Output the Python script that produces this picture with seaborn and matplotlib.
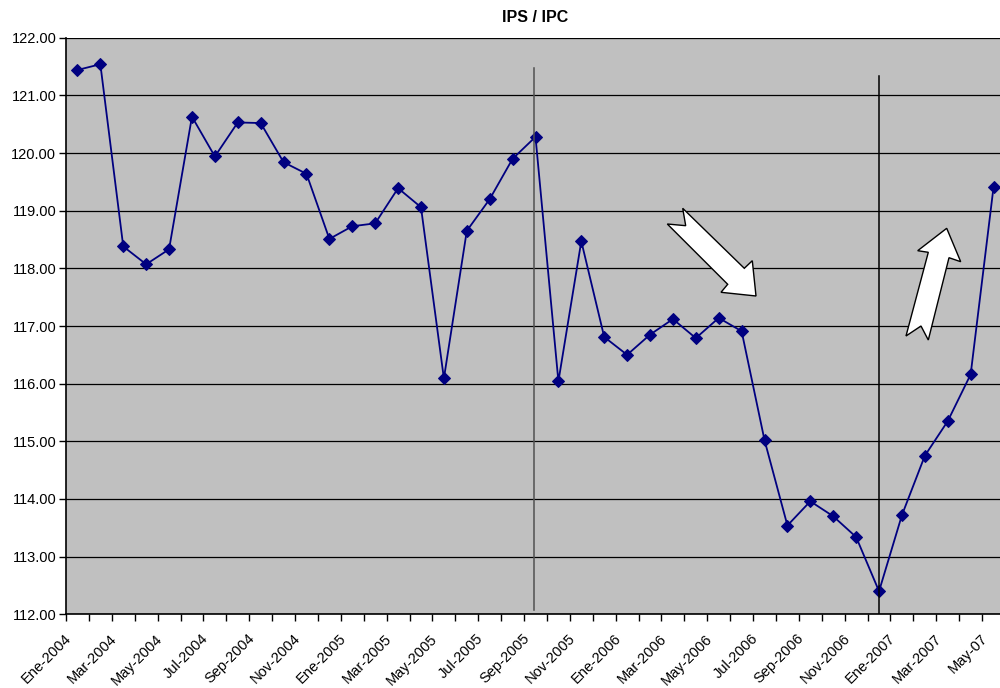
import matplotlib
matplotlib.use("Agg")
import matplotlib.pyplot as plt
from matplotlib.patches import Polygon
from matplotlib.ticker import FuncFormatter, FixedLocator
from matplotlib.transforms import ScaledTranslation
import seaborn as sns
import pandas as pd

# ---- data ----
months = [
    "Ene-2004", "Feb-2004", "Mar-2004", "Abr-2004", "May-2004", "Jun-2004",
    "Jul-2004", "Ago-2004", "Sep-2004", "Oct-2004", "Nov-2004", "Dic-2004",
    "Ene-2005", "Feb-2005", "Mar-2005", "Abr-2005", "May-2005", "Jun-2005",
    "Jul-2005", "Ago-2005", "Sep-2005", "Oct-2005", "Nov-2005", "Dic-2005",
    "Ene-2006", "Feb-2006", "Mar-2006", "Abr-2006", "May-2006", "Jun-2006",
    "Jul-2006", "Ago-2006", "Sep-2006", "Oct-2006", "Nov-2006", "Dic-2006",
    "Ene-2007", "Feb-2007", "Mar-2007", "Abr-2007", "May-07",
]
values = [
    121.44, 121.54, 118.38, 118.07, 118.33, 120.63,
    119.94, 120.53, 120.52, 119.84, 119.64, 118.51,
    118.73, 118.78, 119.39, 119.06, 116.09, 118.65,
    119.20, 119.90, 120.28, 116.04, 118.47, 116.81,
    116.50, 116.85, 117.12, 116.79, 117.14, 116.91,
    115.02, 113.54, 113.96, 113.70, 113.34, 112.40,
    113.72, 114.75, 115.35, 116.16, 119.41,
]
title = "IPS / IPC"
y_ticks = [112, 113, 114, 115, 116, 117, 118, 119, 120, 121, 122]

df = pd.DataFrame({"idx": range(len(months)), "mes": months, "valor": values})

# ---- figure ----
fig = plt.figure(figsize=(10, 6.88), dpi=100)
plt.rcParams["font.family"] = ["Liberation Sans", "DejaVu Sans"]
L, R, T, B = 66, 1005, 37.7, 614.3
ax = fig.add_axes([L / 1000, 1 - B / 688, (R - L) / 1000, (B - T) / 688])
ax.set_facecolor("#C0C0C0")

sns.lineplot(data=df, x="idx", y="valor", ax=ax, color="#000080",
             marker="D", markersize=5.8, markeredgecolor="#000080",
             linewidth=1.3, legend=False)

n = len(months)
ax.set_xlim(-0.5, n - 0.5)
ax.set_ylim(112, 122)

# grid
for yv in y_ticks:
    ax.axhline(yv, color="black", lw=0.9, zorder=1)

# y axis
ax.yaxis.set_major_locator(FixedLocator(y_ticks))
ax.yaxis.set_major_formatter(FuncFormatter(lambda v, p: f"{v:.2f}"))
ax.tick_params(axis="y", direction="out", length=5, width=1, pad=2,
               labelsize=10.5, colors="black")

# x axis: ticks between categories, labels every second category
ax.set_xticks(list(range(0, n, 2)))
ax.set_xticklabels([months[i] for i in range(0, n, 2)], rotation=45,
                   ha="right", va="center", rotation_mode="anchor")
ax.set_xticks([i - 0.5 for i in range(n + 1)], minor=True)
ax.tick_params(axis="x", which="major", length=0, pad=16, labelsize=10.5)
ax.tick_params(axis="x", which="minor", direction="out", length=5, width=1)
shift = ScaledTranslation(-0.086, 0.0, fig.dpi_scale_trans)
for lab in ax.get_xticklabels():
    lab.set_transform(lab.get_transform() + shift)

ax.set_xlabel("")
ax.set_ylabel("")
for s in ["top", "right"]:
    ax.spines[s].set_visible(False)
ax.spines["left"].set_color("black")
ax.spines["bottom"].set_color("black")
ax.spines["left"].set_linewidth(1.2)
ax.spines["bottom"].set_linewidth(1.2)

ax.set_title(title, fontsize=11.5, fontweight="bold", pad=11)

# vertical marker lines
vline_pos = [19.93, 35.0]
vline_top = [121.47, 121.34]
vline_bot = [112.07, 112.0]
vline_col = ["#505050", "black"]
for xv, yt, yb, c in zip(vline_pos, vline_top, vline_bot, vline_col):
    ax.plot([xv, xv], [yb, yt], color=c, lw=1.1, zorder=2)


# block arrows (pixel positions converted to axes fraction)
def to_axes(pts):
    return [((px - L) / (R - L), (B - py) / (B - T)) for px, py in pts]


arrow_down = [(682.7, 208.3), (744.3, 268.3), (752.3, 260.7), (756.0, 296.0),
              (721.0, 292.3), (727.7, 284.3), (667.3, 224.0), (685.7, 225.7)]
arrow_up = [(946.7, 228.3), (960.7, 261.7), (949.0, 257.7), (928.3, 340.0),
            (921.0, 326.0), (906.0, 336.0), (928.3, 252.3), (917.7, 250.7)]
for poly in (arrow_down, arrow_up):
    ax.add_patch(Polygon(to_axes(poly), closed=True, transform=ax.transAxes,
                         facecolor="white", edgecolor="black", lw=1.0,
                         zorder=4, clip_on=False))

fig.savefig("out.png", dpi=100)
